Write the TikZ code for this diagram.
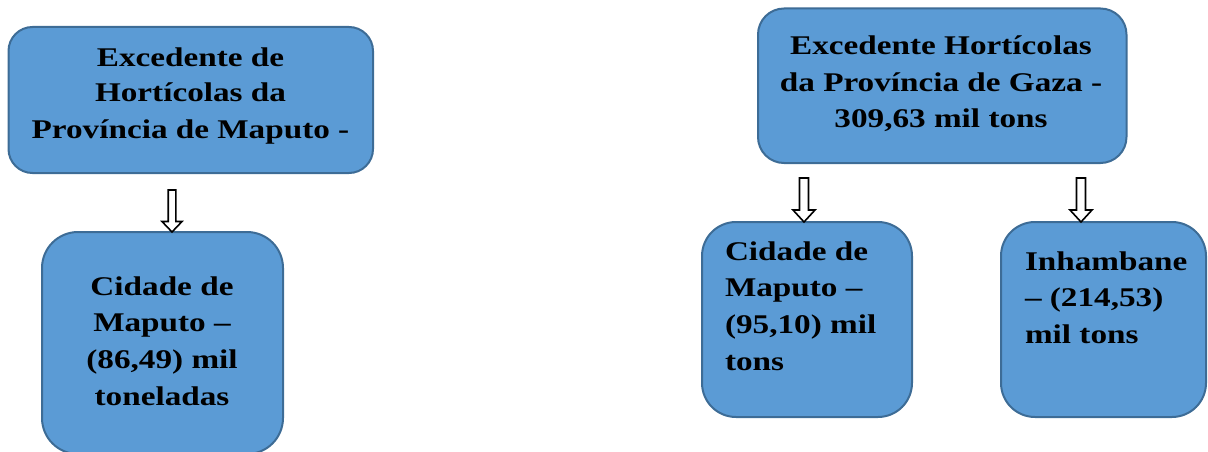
\documentclass[tikz,border=0pt]{standalone}
\usepackage{fontspec}
\newfontfamily\boxfont{Liberation Serif}[FakeStretch=1.23]
\usetikzlibrary{calc}

\definecolor{boxfill}{HTML}{5B9BD5}
\definecolor{boxline}{HTML}{3D6C96}

\tikzset{
  box/.style={draw=boxline, fill=boxfill, line width=2pt, inner sep=0pt, outer sep=0pt},
  line/.style={inner sep=0pt, outer sep=0pt, anchor=base, font=\boxfont\bfseries\fontsize{27}{32}\selectfont},
  lline/.style={line, anchor=base west},
  arrowline/.style={draw=black, fill=white, line width=1.6pt, line join=miter},
  % hollow block arrow pointing down, tip at the pic origin
  pics/downarrow/.style args={#1,#2,#3,#4}{code={
    \draw[arrowline] (-#3,-#1) -- (#3,-#1) -- (#3,-#2) -- (#4,-#2) -- (0,0)
      -- (-#4,-#2) -- (-#3,-#2) -- cycle;
  }}
}

\begin{document}
\begin{tikzpicture}[x=1pt, y=-1pt]
\useasboundingbox (0,0) rectangle (1208,452);

% source boxes
\node[box, minimum width=364.5pt, minimum height=146pt, rounded corners=24pt] (mp) at (190.75,100) {};
\node[box, minimum width=368.5pt, minimum height=154.5pt, rounded corners=26pt] (gz) at (942.25,85.75) {};

% destination boxes
\node[box, minimum width=241pt, minimum height=222pt, rounded corners=36pt] (cm1) at (162.5,343) {};
\node[box, minimum width=210pt, minimum height=195pt, rounded corners=34pt] (cm2) at (807,319.5) {};
\node[box, minimum width=205pt, minimum height=195pt, rounded corners=34pt] (ih) at (1103.5,319.5) {};

% Maputo province
\node[line] (mp1) at (190.5,66.7) {Excedente de};
\node[line] (mp2) at (190.5,101.7) {Hortícolas da};
\node[line] (mp3) at (190.5,138) {Província de Maputo -};

% Gaza province
\node[line] (gz1) at (941,55) {Excedente Hortícolas};
\node[line] (gz2) at (941,91.7) {da Província de Gaza -};
\node[line] (gz3) at (941,128) {309,63 mil tons};

% Cidade de Maputo (from Maputo province)
\node[line] (cma) at (162,295) {Cidade de};
\node[line] (cmb) at (162,331.7) {Maputo –};
\node[line] (cmc) at (162,368.4) {(86,49) mil};
\node[line] (cmd) at (162,405) {toneladas};

% Cidade de Maputo (from Gaza)
\node[lline] (cna) at (725,260) {Cidade de};
\node[lline] (cnb) at (725,296.7) {Maputo –};
\node[lline] (cnc) at (725,333.3) {(95,10) mil};
\node[lline] (cnd) at (725,370) {tons};

% Inhambane
\node[lline] (iha) at (1025,270) {Inhambane};
\node[lline] (ihb) at (1025,306.7) {– (214,53)};
\node[lline] (ihc) at (1025,343.3) {mil tons};

% arrow tips on the top edges of the destination boxes
\coordinate (t1) at (172,0 |- cm1.north);
\coordinate (t2) at (804,0 |- cm2.north);
\coordinate (t3) at (1081,0 |- ih.north);

\pic at (t1) {downarrow={42,10.5,3.8,10}};
\pic at (t2) {downarrow={44,12,4.5,11}};
\pic at (t3) {downarrow={44,12,4.5,11}};
\end{tikzpicture}
\end{document}
